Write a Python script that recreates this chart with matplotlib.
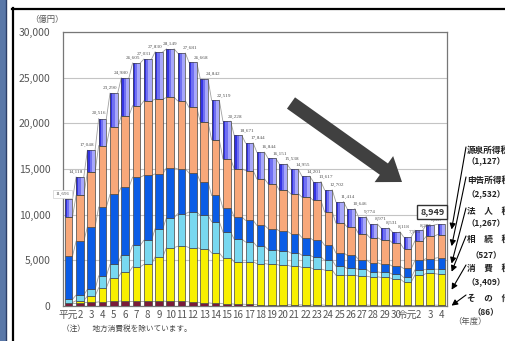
import numpy as np
import matplotlib.pyplot as plt
from matplotlib.lines import Line2D
from matplotlib.patches import Rectangle

plt.rcParams['font.family'] = ['Noto Sans CJK JP', 'DejaVu Sans']

# 年度 (平成元年度〜令和4年度)
years = ['平元', '2', '3', '4', '5', '6', '7', '8', '9', '10', '11', '12', '13', '14', '15',
         '16', '17', '18', '19', '20', '21', '22', '23', '24', '25', '26', '27', '28', '29',
         '30', '令元', '2', '3', '4']

# 滞納残高 合計 (億円)
totals = [11691, 14118, 17048, 20516, 23290, 24980, 26605, 27031, 27830, 28149, 27681, 26668,
          24842, 22519, 20228, 18671, 17844, 16844, 16151, 15538, 14955, 14201, 13617, 12702,
          11414, 10646, 9774, 8971, 8531, 8118, 7554, 8285, 8857, 8949]

# 税目別 (億円)
sonota = [350, 350, 400, 450, 500, 550, 550, 550, 550, 500, 500, 450, 350, 300, 250, 200, 180,
          150, 150, 150, 130, 120, 110, 100, 100, 100, 100, 90, 90, 90, 90, 90, 90, 86]
shohi = [30, 230, 690, 1550, 2520, 3120, 3740, 4000, 4830, 5900, 6040, 5950, 5940, 5510, 5060,
         4630, 4650, 4500, 4430, 4320, 4230, 4100, 3960, 3830, 3280, 3280, 3170, 3110, 3040,
         2890, 2560, 3300, 3470, 3409]
sozoku = [350, 620, 730, 1300, 1530, 1890, 2360, 2650, 3090, 3270, 3570, 3890, 3630, 3430, 2800,
          2480, 2180, 1890, 1600, 1560, 1450, 1340, 1310, 1090, 980, 730, 760, 540, 540, 510,
          480, 560, 470, 527]
hojin = [4720, 5890, 6830, 7530, 7660, 7450, 7450, 7090, 6000, 5450, 4900, 4270, 3650, 2860,
         2610, 2430, 2370, 2290, 2290, 2180, 2120, 1930, 1820, 1630, 1450, 1450, 1060, 1020,
         910, 870, 980, 1050, 1170, 1267]
shinkoku = [4290, 5010, 6000, 6730, 7340, 7820, 7820, 8170, 8180, 7710, 7450, 7180, 6570, 6100,
            5390, 5280, 5450, 5090, 4910, 4440, 4360, 4430, 4360, 3650, 3280, 3090, 2840, 2730,
            2690, 2560, 2180, 2120, 2430, 2532]
gensen = [1951, 2018, 2398, 2956, 3740, 4150, 4685, 4571, 5180, 5319, 5221, 4928, 4702, 4319,
          4118, 3651, 3014, 2924, 2771, 2888, 2665, 2281, 2057, 2402, 2324, 1996, 1844, 1481,
          1261, 1198, 1264, 1165, 1227, 1127]

legend_names = ['源泉所得税', '申告所得税', '法　人　税', '相　続　税', '消　費　税', 'そ　の　他']
legend_values = ['（1,127）', '（2,532）', '（1,267）', '（527）', '（3,409）', '（86）']

fig = plt.figure(figsize=(5.06, 3.41), dpi=100)
W, H = 506, 341
ax = fig.add_axes([63 / W, 1 - 306 / H, (447 - 63) / W, (306 - 32) / H])

x = np.arange(len(years))
w = 0.68
layers = [sonota, shohi, sozoku, hojin, shinkoku]
colors = ['#7a1c3a', '#f8f000', '#78d8f0', '#0a5ce6', '#f8a87a']
edge = '#444444'

bottom = np.zeros(len(x))
tops = []
for vals, c in zip(layers, colors):
    ax.bar(x, vals, w, bottom=bottom, color=c, edgecolor=edge, linewidth=0.5, zorder=3)
    bottom = bottom + np.array(vals)
    tops.append(bottom.copy())

# 源泉所得税: horizontal gradient look (dark left -> light right)
ax.bar(x, gensen, w, bottom=bottom, color='#a8a8fa', linewidth=0, zorder=3)
ax.bar(x - w / 2, gensen, w * 0.6, bottom=bottom, align='edge', color='#7070f2',
       linewidth=0, zorder=3)
ax.bar(x - w / 2, gensen, w * 0.3, bottom=bottom, align='edge', color='#3434e2',
       linewidth=0, zorder=3)
ax.bar(x, gensen, w, bottom=bottom, fill=False, edgecolor=edge, linewidth=0.5, zorder=4)
bottom = bottom + np.array(gensen)
tops.append(bottom.copy())

# series lines between bars
for t in tops:
    for i in range(len(x) - 1):
        ax.plot([x[i] + w / 2, x[i + 1] - w / 2], [t[i], t[i + 1]], color='#a0a0a0',
                lw=0.6, zorder=2)

# total labels
for i in range(len(x) - 1):
    lab = f'{totals[i]:,}'
    kw = dict(fontsize=3.8, color='#555555', family='Liberation Serif', va='bottom', zorder=5)
    if i == 0:
        ax.text(x[i] + 0.1, totals[i] + 350, lab, ha='right',
                bbox=dict(boxstyle='square,pad=0.4', fc='white', ec='#d0d0d0', lw=0.5), **kw)
    elif i < 9:
        ax.text(x[i] + 0.3, totals[i] + 350, lab, ha='right', **kw)
    elif i == 9:
        ax.text(x[i], totals[i] + 350, lab, ha='center', **kw)
    else:
        ax.text(x[i] + 0.1, totals[i] + 300, lab, ha='left', **kw)

ax.text(x[-1] - 0.8, 10300, f'{totals[-1]:,}', ha='center', va='center', fontsize=6.5,
        fontweight='bold', color='#333333', zorder=6,
        bbox=dict(boxstyle='square,pad=0.3', fc='white', ec='#333333', lw=1.0))

ax.set_xlim(-0.5, len(x) - 0.5)
ax.set_ylim(0, 30000)
ax.set_yticks(range(0, 30001, 5000))
ax.set_yticklabels([f'{v:,}' for v in range(0, 30001, 5000)])
ax.set_xticks(x)
ax.set_xticklabels(years)
for lab in ax.get_xticklabels():
    if lab.get_text() in ('平元', '令元'):
        lab.set_fontsize(3.6)
ax.tick_params(axis='y', length=0, pad=9, labelsize=7.5, labelcolor='#555555')
ax.tick_params(axis='x', length=0, pad=3, labelsize=7, labelcolor='#555555')
ax.grid(axis='y', color='#c4c4c4', lw=0.8, zorder=0)
ax.set_axisbelow(True)
for s in ax.spines.values():
    s.set_color('#777777')
    s.set_linewidth(0.9)

# big downward arrow
ax.annotate('', xy=(402, H - 182), xycoords='figure pixels', xytext=(291, H - 103),
            textcoords='figure pixels',
            arrowprops=dict(arrowstyle='simple,head_length=1.6,head_width=2.3,tail_width=1.0',
                            mutation_scale=10, fc='#404040', ec='none', shrinkA=0, shrinkB=0))

# legend on the right with leader arrows
name_y = [150, 180, 211, 239, 268, 298]
val_y = [162, 195, 224, 255, 283, 312]
seg_bottoms = [tops[4][-1], tops[3][-1], tops[2][-1], tops[1][-1], tops[0][-1], 0]
seg_vals = [gensen[-1], shinkoku[-1], hojin[-1], sozoku[-1], shohi[-1], sonota[-1]]
for k in range(6):
    fig.text(467 / W, 1 - name_y[k] / H, legend_names[k], fontsize=6.2, fontweight='bold',
             color='#222222', va='center', ha='left')
    fig.text(486 / W, 1 - val_y[k] / H, legend_values[k], fontsize=6, fontweight='bold',
             color='#222222', va='center', ha='center')
    mid = seg_bottoms[k] + seg_vals[k] / 2
    ax.annotate('', xy=(1.012, mid), xycoords=('axes fraction', 'data'),
                xytext=(466, H - (name_y[k] - 3)), textcoords='figure pixels',
                arrowprops=dict(arrowstyle='-|>,head_length=0.35,head_width=0.18',
                                color='black', lw=0.8, shrinkA=0, shrinkB=0))

fig.text(47 / W, 1 - 19 / H, '（億円）', fontsize=6, color='#555555', ha='center', va='center')
fig.text(453 / W, 1 - 321 / H, '（年度）', fontsize=6, color='#555555', ha='left', va='center')
fig.text(62 / W, 1 - 329 / H, '（注）　地方消費税を除いています。', fontsize=5.5, color='#444444',
         ha='left', va='center')

# frame of the original slide
fig.add_artist(Rectangle((0, 0), 6 / W, 1, transform=fig.transFigure, fc='#5a78a8', ec='none'))
fig.add_artist(Line2D([6 / W, 6 / W], [0, 1], transform=fig.transFigure, color='#2c3e66', lw=1))
fig.add_artist(Line2D([13 / W, 13 / W], [0, 1 - 8 / H], transform=fig.transFigure,
                      color='black', lw=1.6))
fig.add_artist(Line2D([12 / W, 1], [1 - 9 / H, 1 - 9 / H], transform=fig.transFigure,
                      color='black', lw=1.6))

fig.savefig('out.png', dpi=100)
